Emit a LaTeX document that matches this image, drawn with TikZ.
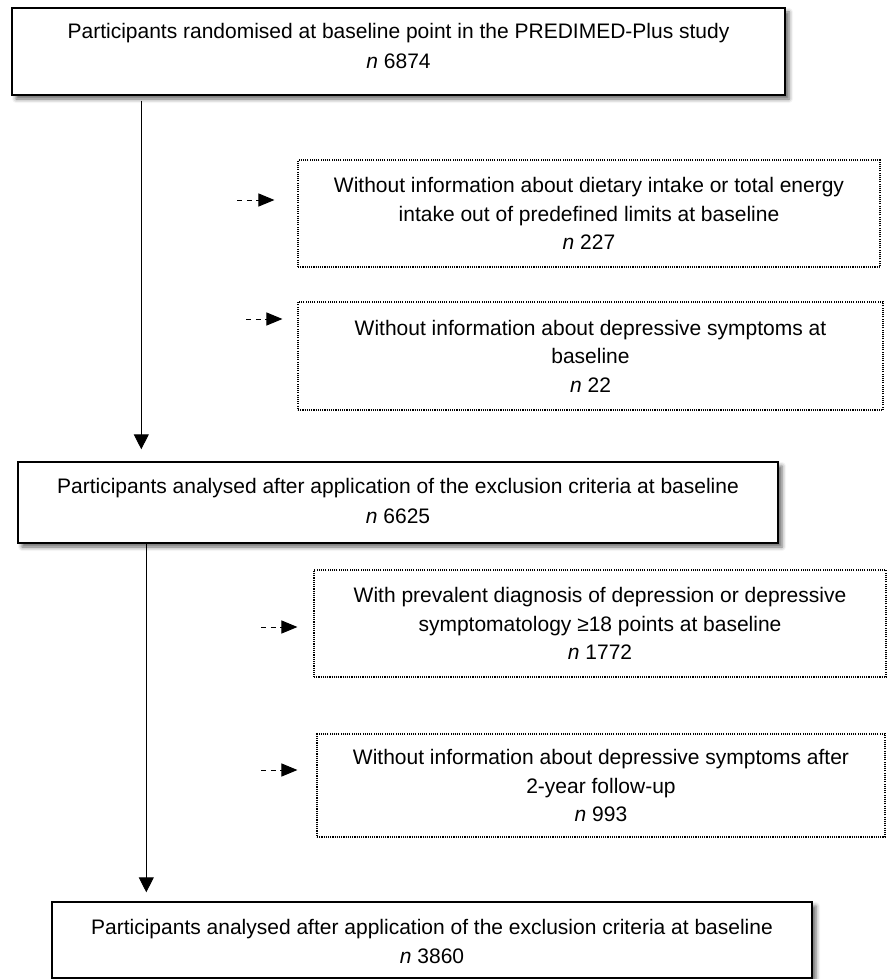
\documentclass[tikz,border=0pt]{standalone}
\usepackage{fontspec}
\setmainfont{Liberation Sans}
\usetikzlibrary{arrows.meta,shadows.blur,calc}
\newcommand\liftlines[2]{\raisebox{#1}[\height][\depth]{\begin{tabular}{@{}c@{}}#2\end{tabular}}}
\begin{document}
\begin{tikzpicture}[x=1pt,y=-1pt,
  txt/.style={align=center, inner sep=0pt, font=\fontsize{21}{28.5}\selectfont},
  mainbox/.style={inner sep=0pt, font=\fontsize{21}{29.5}\selectfont, draw=black, line width=1.4pt, fill=white,
    blur shadow={shadow xshift=4pt, shadow yshift=-4pt, shadow blur radius=4pt, shadow opacity=60}},
  exclbox/.style={txt, draw=black, line width=1.1pt, dash pattern=on 1.1pt off 1.1pt},
  flow/.style={line width=0.9pt, -{Triangle[length=15pt,width=15pt]}},
  side/.style={line width=1pt, dash pattern=on 5pt off 4.5pt, -{Triangle[length=16pt,width=13pt]}}]
\useasboundingbox (0,0) rectangle (887,979);

\node[mainbox, minimum width=773pt, minimum height=87pt] (top) at (398.5,51.5)
  {\liftlines{4pt}{Participants randomised at baseline point in the PREDIMED-Plus study\\\textit{n} 6874}};
\node[exclbox, minimum width=582pt, minimum height=107pt] (ex1) at (589,213.5)
  {Without information about dietary intake or total energy\\intake out of predefined limits at baseline\\\textit{n} 227};
\node[exclbox, minimum width=585pt, minimum height=108pt] (ex2) at (590.5,356)
  {Without information about depressive symptoms at\\baseline\\\textit{n} 22};
\node[mainbox, minimum width=760pt, minimum height=81pt] (mid) at (398,502.5)
  {\liftlines{0pt}{Participants analysed after application of the exclusion criteria at baseline\\\textit{n} 6625}};
\node[exclbox, minimum width=572pt, minimum height=107pt] (ex3) at (600,623.5)
  {With prevalent diagnosis of depression or depressive\\symptomatology ≥18 points at baseline\\\textit{n} 1772};
\node[exclbox, minimum width=568pt, minimum height=103pt] (ex4) at (601,785.5)
  {Without information about depressive symptoms after\\2-year follow-up\\\textit{n} 993};
\node[mainbox, minimum width=760pt, minimum height=76pt] (bot) at (432,940)
  {\liftlines{-3pt}{Participants analysed after application of the exclusion criteria at baseline\\\textit{n} 3860}};

\coordinate (f1s) at ($(top.south west)+(130,5)$);
\coordinate (f1e) at ($(mid.north west)+(124,-12)$);
\coordinate (f2s) at ($(mid.south west)+(129,0)$);
\coordinate (f2e) at ($(bot.north west)+(95,-9)$);
\draw[flow] (f1s) -- (f1e);
\draw[flow] (f2s) -- (f2e);

\coordinate (s1e) at ($(ex1.west)+(-23,-13.5)$);
\coordinate (s1s) at ($(s1e)+(-37,0)$);
\coordinate (s2e) at ($(ex2.west)+(-15,-37)$);
\coordinate (s2s) at ($(s2e)+(-36,0)$);
\coordinate (s3e) at ($(ex3.west)+(-16,3.5)$);
\coordinate (s3s) at ($(s3e)+(-36,0)$);
\coordinate (s4e) at ($(ex4.west)+(-19,-15.5)$);
\coordinate (s4s) at ($(s4e)+(-36,0)$);
\draw[side] (s1s) -- (s1e);
\draw[side] (s2s) -- (s2e);
\draw[side] (s3s) -- (s3e);
\draw[side] (s4s) -- (s4e);
\end{tikzpicture}
\end{document}
